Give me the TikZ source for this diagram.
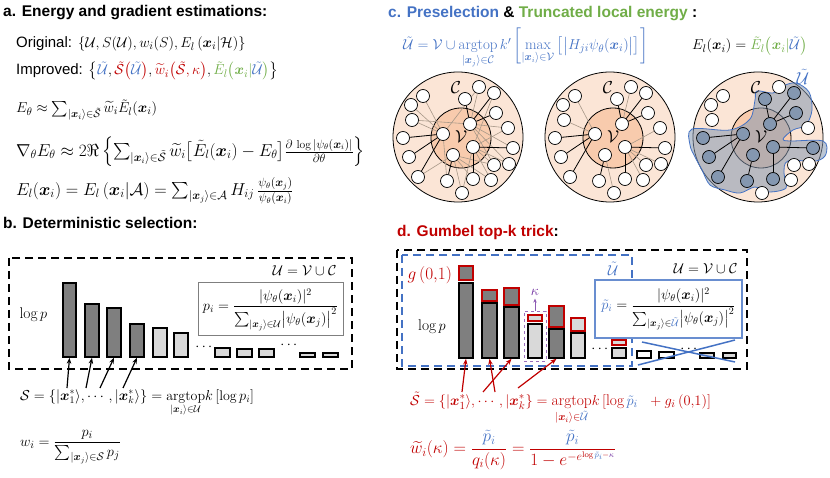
\documentclass[tikz,border=0pt]{standalone}
\usepackage{amsmath,amssymb}
\usepackage{fontspec}
\newfontfamily\arialf{Liberation Sans}
\usetikzlibrary{arrows.meta,fit}
\definecolor{cblue}{HTML}{4472C4}
\definecolor{cred}{HTML}{C00000}
\definecolor{cgreen}{HTML}{70AD47}
\definecolor{cpurple}{HTML}{7030A0}
\definecolor{peach}{HTML}{FBE5D6}
\definecolor{innerc}{HTML}{F8CBAD}
\definecolor{slate}{HTML}{8497B0}
\definecolor{dkbar}{HTML}{7F7F7F}
\definecolor{ltbar}{HTML}{D9D9D9}
\definecolor{edgegray}{HTML}{A89888}
\pgfdeclarelayer{bg}
\pgfdeclarelayer{mid}
\pgfsetlayers{bg,mid,main}
\newcommand\bx{\boldsymbol{x}}
\newcommand\tU{\tilde{\mathcal{U}}}
\newcommand\tS{\tilde{\mathcal{S}}}
\newcommand\ringbase{%
  \begin{pgfonlayer}{bg}
    \fill[peach,draw=black,line width=0.8pt] (0,0) circle[radius=65pt];
    \fill[innerc,draw=black,line width=0.8pt] (3,1) circle[radius=30pt];
  \end{pgfonlayer}
  \node[font=\fontsize{17}{20}\selectfont] (lv) at (3,0) {$\mathcal{V}$};
  \node[font=\fontsize{17}{20}\selectfont] (lc) at (-2,-49) {$\mathcal{C}$};}
\begin{document}
\begin{tikzpicture}[x=1pt,y=-1pt,font=\fontsize{14}{17}\selectfont,
  title/.style={anchor=west,inner sep=0pt,font=\arialf\bfseries\fontsize{15.5}{18}\selectfont},
  eq/.style={anchor=west,inner sep=0pt},
  big/.style={font=\fontsize{15.5}{19}\selectfont},
  bigger/.style={font=\fontsize{16.5}{20}\selectfont},
  cn/.style={circle,draw,line width=0.7pt,fill=white,minimum size=13pt,inner sep=0pt},
  bn/.style={cn,fill=slate},
  dk/.style={draw=black,line width=0.8pt},
  gy/.style={draw=edgegray,line width=0.6pt},
  bar/.style={draw,line width=1.5pt,inner sep=0pt},
  rbar/.style={draw=cred,line width=1.5pt,inner sep=0pt},
  bdash/.style={dash pattern=on 8pt off 5pt,line width=1.8pt},
  arr/.style={-{Stealth[length=6pt,width=4.5pt]},line width=1.2pt},
]
\useasboundingbox (0,0) rectangle (830,478);

% ---------------- panel a
\node[title] (ta) at (3,13) {a. Energy and gradient estimations:};
\node[eq,font=\fontsize{15}{18}\selectfont] (a1) at (16,44) {{\arialf Original:} $\{\mathcal{U},S(\mathcal{U}),w_i(S),E_l\,(\bx_i|\mathcal{H})\}$};
\node[eq,font=\fontsize{15}{18}\selectfont] (a2) at (16,71) {{\arialf Improved:} $\big\{\textcolor{cblue}{\tU},\textcolor{cred}{\tS\big(\textcolor{cblue}{\tU}\big)},\textcolor{cred}{\widetilde{w}_i\big(\tS,\kappa\big)},\textcolor{cgreen}{\tilde{E}_l\big(\bx_i|\textcolor{cblue}{\tU}\big)}\big\}$};
\node[eq,big] (a3) at (16,110) {$E_\theta\approx\sum_{|\bx_i\rangle\in\tS}\widetilde{w}_i\tilde{E}_l(\bx_i)$};
\node[eq,bigger] (a4) at (16,152) {$\nabla_\theta E_\theta\approx 2\Re\left\{\sum_{|\bx_i\rangle\in\tS}\widetilde{w}_i\big[\tilde{E}_l(\bx_i)-E_\theta\big]\frac{\partial\,\log|\psi_\theta(\bx_i)|}{\partial\theta}\right\}$};
\node[eq,bigger] (a5) at (16,191) {$E_l(\bx_i)=E_l\,(\bx_i|\mathcal{A})=\sum_{|\bx_j\rangle\in\mathcal{A}}H_{ij}\,\frac{\psi_\theta(\bx_j)}{\psi_\theta(\bx_i)}$};

% ---------------- panel b
\node[title] (tb) at (3,223) {b. Deterministic selection:};
\draw[bdash] (9,258) rectangle (352,369);
\node[anchor=east,big] (bU) at (340,271) {$\mathcal{U}=\mathcal{V}\cup\mathcal{C}$};
\node[anchor=west,big] (blog) at (16,315) {$\log p$};
\node[bar,fill=dkbar,fit={(63,283)(76,357)}] (b1) {};
\node[bar,fill=dkbar,fit={(85,304)(99,357)}] (b2) {};
\node[bar,fill=dkbar,fit={(107,308)(121,357)}] (b3) {};
\node[bar,fill=dkbar,fit={(130,324)(144,357)}] (b4) {};
\node[bar,fill=ltbar,fit={(153,328)(167,357)}] (b5) {};
\node[bar,fill=ltbar,fit={(174,333)(188,357)}] (b6) {};
\node (bd1) at (205,347) {$\cdots$};
\node[bar,fill=ltbar,fit={(215,348)(230,357)}] (b7) {};
\node[bar,fill=ltbar,fit={(237,349)(252,357)}] (b8) {};
\node[bar,fill=ltbar,fit={(259,349)(274,357)}] (b9) {};
\node (bd2) at (290,345) {$\cdots$};
\node[bar,fill=ltbar,fit={(300,353)(315,357)}] (b10) {};
\node[bar,fill=ltbar,fit={(323,353)(338,357)}] (b11) {};
\node[draw=dkbar,line width=1pt,fill=white,minimum width=145pt,minimum height=53pt,inner sep=1pt,font=\fontsize{14.5}{17}\selectfont] (pbox) at (270.5,309.5)
  {$p_i=\dfrac{|\psi_\theta(\bx_i)|^2}{\sum_{|\bx_j\rangle\in\mathcal{U}}\bigl|\psi_\theta(\bx_j)\bigr|^2}$};
\node[anchor=base west,inner sep=0pt] (bS) at (20,400) {$\mathcal{S}=\{|\bx_1^*\rangle,\cdots,|\bx_k^*\rangle\}=\underset{|\bx_i\rangle\in\mathcal{U}}{\mathrm{argtop}}k\,[\log p_i]$};
\node[eq,font=\fontsize{15}{18}\selectfont] (bw) at (20,447) {$w_i=\dfrac{p_i}{\sum_{|\bx_j\rangle\in\mathcal{S}}p_j}$};
\coordinate (tb1) at (67,388);
\coordinate (tb2) at (86,388);
\coordinate (tb3) at (100,388);
\coordinate (tb4) at (123,388);
\draw[arr] (tb1) -- (b1.south);
\draw[arr] (tb2) -- (b2.south);
\draw[arr] (tb3) -- (b3.south);
\draw[arr] (tb4) -- (b4.south);

% ---------------- panel c
\node[title] (tc) at (388,14) {\textcolor{cblue}{c. Preselection} \& \textcolor{cgreen}{Truncated local energy} :};
\node[eq,text=cblue,font=\fontsize{15}{18}\selectfont] (c1) at (403,48) {$\tU=\mathcal{V}\cup\underset{|\bx_j\rangle\in\mathcal{C}}{\mathrm{argtop}}\,k'\left[\max\limits_{|\bx_i\rangle\in\mathcal{V}}\big[\big|H_{ji}\psi_\theta(\bx_i)\big|\big]\right]$};
\node[eq,font=\fontsize{15.5}{19}\selectfont] (c2) at (692,46) {$E_l(\bx_i)=\textcolor{cgreen}{\tilde{E}_l\big(\bx_i|\textcolor{cblue}{\tU}\big)}$};

\def\vlist{v1/-15/-3,v2/12/-13,v3/15/10,v4/-5/18}
\def\clist{c1/-35/-41,c2/-47/-32,c3/-46/-17,c4/-55/1,c5/-49/20,c6/-40/40,c7/-11/44,c8/4/56,c9/15/42,c10/33/43,c11/36/28,c12/51/27,c13/55/11,c14/50/-9,c15/38/-24,c16/36/-44,c17/21/-50,c18/7/-38}
\def\dklist{v1/c4,v1/c5,v1/c6,v2/c18,v2/c16,v2/c15,v3/c13,v3/c9,v4/c7}

% circle 1
\begin{scope}[shift={(458,137)},name prefix=A-]
  \ringbase
  \foreach \n/\x/\y in \vlist {\node[cn] (\n) at (\x,\y) {};}
  \foreach \n/\x/\y in \clist {\node[cn] (\n) at (\x,\y) {};}
  \begin{pgfonlayer}{mid}
  \foreach \a/\b in {v1/c1,v1/c2,v1/c3,v2/c17,v2/c14,v2/c13,v2/c12,v3/c14,v3/c12,v3/c11,v3/c10,v3/c8,v4/c8,v4/c9,v4/c10,v2/c3,v1/c7,v4/c6,v3/c16,v2/c11,v1/c17,v4/c11}
    {\draw[gy] (\a) -- (\b);}
  \foreach \a/\b in \dklist {\draw[dk] (\a) -- (\b);}
  \end{pgfonlayer}
\end{scope}

% circle 2
\begin{scope}[shift={(610,137)},name prefix=B-]
  \ringbase
  \foreach \n/\x/\y in \vlist {\node[cn] (\n) at (\x,\y) {};}
  \foreach \n/\x/\y in \clist {\node[cn] (\n) at (\x,\y) {};}
  \begin{pgfonlayer}{mid}
  \foreach \a/\b in {v1/c1,v1/c3,v2/c17,v3/c14,v3/c11,v3/c10,v3/c12,v4/c8}
    {\draw[gy] (\a) -- (\b);}
  \foreach \a/\b in \dklist {\draw[dk] (\a) -- (\b);}
  \end{pgfonlayer}
\end{scope}

% circle 3
\begin{scope}[shift={(758,137)},name prefix=C-]
  \ringbase
  \begin{pgfonlayer}{bg}
  \path[fill=slate,fill opacity=0.55,draw=cblue,line width=0.8pt] plot[smooth cycle,tension=0.55] coordinates {(-66,-8)(-28,-7)(-8,-18)(-3,-37)(-1,-46)(15,-44)(25,-51)(38,-54)(51,-45)(54,-27)(48,-12)(35,-7)(25,2)(32,4)(65,4)(68,17)(58,24)(30,24)(26,36)(28,51)(10,55)(-3,50)(-18,56)(-33,53)(-48,48)(-56,33)(-63,20)(-68,8)};
  \end{pgfonlayer}
  \foreach \n/\x/\y in \vlist {\node[bn] (\n) at (\x,\y) {};}
  \foreach \n/\x/\y in {c4/-55/1,c5/-49/20,c6/-40/40,c7/-11/44,c9/15/42,c13/55/11,c15/38/-24,c16/36/-44,c18/7/-38} {\node[bn] (\n) at (\x,\y) {};}
  \foreach \n/\x/\y in {c1/-35/-41,c2/-47/-32,c3/-46/-17,c8/4/56,c10/33/43,c11/36/28,c12/51/27,c14/50/-9,c17/21/-50} {\node[cn] (\n) at (\x,\y) {};}
  \begin{pgfonlayer}{mid}
  \foreach \a/\b in \dklist {\draw[dk] (\a) -- (\b);}
  \end{pgfonlayer}
  \node[text=cblue,font=\fontsize{17}{20}\selectfont] (lU) at (45,-60) {$\tU$};
\end{scope}

% ---------------- panel d
\node[title] (td) at (397,232) {\textcolor{cred}{d. Gumbel top-k trick}:};
\draw[bdash] (397,250) rectangle (747,369);
\draw[bdash,cblue] (402,255) rectangle (632,366);
\node[text=cblue,big] (dUt) at (613,269) {$\tU$};
\node[anchor=east,big] (dU) at (741,269) {$\mathcal{U}=\mathcal{V}\cup\mathcal{C}$};
\node[anchor=west,text=cred,font=\fontsize{16.5}{19}\selectfont] (dg) at (404,275) {$g\,(0{,}1)$};
\node[big] (dlog) at (432,327) {$\log p$};
% bars
\node[bar,fill=dkbar,fit={(459,283)(473,358)}] (d1) {};
\node[rbar,fill=dkbar,fit={(459,266)(473,280)}] (r1) {};
\node[bar,fill=dkbar,fit={(482,303)(497,358)}] (d2) {};
\node[rbar,fill=dkbar,fit={(482,290)(497,301)}] (r2) {};
\node[bar,fill=dkbar,fit={(504,307)(519,358)}] (d3) {};
\node[rbar,fill=dkbar,fit={(504,288)(519,305)}] (r3) {};
\node[bar,fill=ltbar,fit={(528,324)(542,358)}] (d4) {};
\node[rbar,fill=ltbar,fit={(528,315)(542,321)}] (r4) {};
\node[draw=cpurple!70,dashed,line width=0.8pt,inner sep=0pt,fit={(524,311)(546,361)}] (kbox) {};
\node[text=cpurple] (kap) at (535,292) {$\kappa$};
\draw[cpurple!80,line width=0.8pt,-{Stealth[length=4pt,width=3.5pt]}] (kbox.north) -- (kap.south);
\node[bar,fill=dkbar,fit={(549,329)(564,358)}] (d5) {};
\node[rbar,fill=dkbar,fit={(549,306)(564,327)}] (r5) {};
\node[bar,fill=ltbar,fit={(571,333)(585,358)}] (d6) {};
\node[rbar,fill=ltbar,fit={(571,318)(585,331)}] (r6) {};
\node (dd1) at (601,349) {$\cdots$};
\node[bar,fill=ltbar,fit={(612,348)(626,358)}] (d7) {};
\node[rbar,fill=ltbar,fit={(612,340)(626,345)}] (r7) {};
\node[bar,fill=white,fit={(637,351)(651,358)}] (d8) {};
\node[bar,fill=white,fit={(659,352)(674,358)}] (d9) {};
\node (dd2) at (690,349) {$\cdots$};
\node[bar,fill=ltbar,fit={(700,353)(714,358)}] (d10) {};
\node[bar,fill=ltbar,fit={(723,353)(736,358)}] (d11) {};
\draw[cblue,line width=1.5pt] (642,342) -- (735,362);
\draw[cblue,line width=1.5pt] (735,340) -- (638,365);
\node[draw=cblue!80,line width=1.2pt,fill=white,minimum width=147pt,minimum height=58pt,inner sep=1pt,font=\fontsize{14}{17}\selectfont] (ptbox) at (668.5,309)
  {$\textcolor{cblue}{\tilde{p}_i}=\dfrac{|\psi_\theta(\bx_i)|^2}{\sum_{|\bx_j\rangle\in\textcolor{cblue}{\tU}}\bigl|\psi_\theta(\bx_j)\bigr|^2}$};
\node[anchor=base west,inner sep=0pt,text=cred,font=\fontsize{15.5}{19}\selectfont] (dS) at (410,405) {$\tS=\{|\bx_1^*\rangle,\cdots,|\bx_k^*\}=\underset{|\bx_i\rangle\in\textcolor{cblue}{\tU}}{\mathrm{argtop}}k\,[\log\textcolor{cblue}{\tilde{p}_i}\ \ +g_i\,(0{,}1)]$};
\node[eq,text=cred,font=\fontsize{16.5}{19}\selectfont] (dw) at (410,450) {$\widetilde{w}_i(\kappa)=\dfrac{\textcolor{cblue}{\tilde{p}_i}}{q_i(\kappa)}=\dfrac{\textcolor{cblue}{\tilde{p}_i}}{1-e^{-e^{\log\textcolor{cblue}{\tilde{p}_i}-\textcolor{cpurple}{\kappa}}}}$};
\coordinate (td1) at (462,392);
\coordinate (td2) at (495,392);
\coordinate (td3) at (483,392);
\coordinate (td5) at (518,388);
\draw[arr,cred] (td1) -- (d1.south);
\draw[arr,cred] (td2) -- (d2.south);
\draw[arr,cred] (td3) -- (d3.south);
\draw[arr,cred] (td5) -- (d5.south);
\end{tikzpicture}
\end{document}
